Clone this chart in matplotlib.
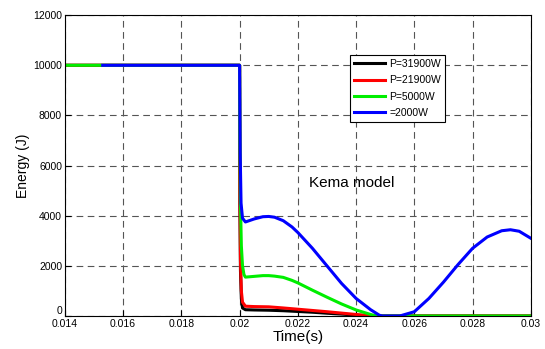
import matplotlib.pyplot as plt

plt.rcParams['font.family'] = ['Liberation Sans', 'DejaVu Sans']

# blue curve (=2000W)
t_blue = [0.0153, 0.02, 0.02002, 0.02005, 0.0201, 0.0202, 0.0205, 0.0208, 0.021, 0.0212, 0.0215,
          0.0218, 0.022, 0.0225, 0.023, 0.0235, 0.024, 0.0245, 0.0248, 0.0249, 0.0255,
          0.026, 0.0265, 0.027, 0.0275, 0.028, 0.0285, 0.029, 0.0293, 0.0296, 0.03]
e_blue = [10000, 10000, 6500, 4500, 3900, 3750, 3870, 3960, 3970, 3940, 3800,
          3550, 3330, 2700, 2000, 1300, 700, 250, 30, 0, 0,
          170, 700, 1350, 2050, 2700, 3150, 3400, 3440, 3380, 3100]

# green curve (P=5000W)
t_green = [0.014, 0.02, 0.02001, 0.02003, 0.02006, 0.0201, 0.02015, 0.0202, 0.0205, 0.0208, 0.021,
           0.0212, 0.0215, 0.0218, 0.022, 0.0225, 0.023, 0.0235, 0.024, 0.0245, 0.0247, 0.03]
e_green = [10000, 10000, 7000, 4500, 2800, 2000, 1650, 1550, 1580, 1610, 1610,
           1590, 1540, 1420, 1320, 1030, 750, 480, 240, 60, 0, 0]

# red curve (P=21900W)
t_red = [0.014, 0.02, 0.02001, 0.02003, 0.02006, 0.0201, 0.0202, 0.0205, 0.021, 0.0215, 0.022,
         0.0225, 0.023, 0.0235, 0.024, 0.0245, 0.0246, 0.03]
e_red = [10000, 10000, 5000, 2200, 1000, 550, 390, 375, 365, 320, 270,
         220, 170, 115, 60, 10, 0, 0]

# black curve (P=31900W)
t_black = [0.014, 0.02, 0.02001, 0.02003, 0.02006, 0.0201, 0.0202, 0.0205, 0.021, 0.0215, 0.022,
           0.0225, 0.023, 0.0235, 0.024, 0.0245, 0.0246, 0.03]
e_black = [10000, 10000, 4500, 1800, 700, 320, 250, 240, 230, 210, 180,
           150, 110, 75, 35, 5, 0, 0]

labels = ['P=31900W', 'P=21900W', 'P=5000W', '=2000W']
xticks = [0.014, 0.016, 0.018, 0.02, 0.022, 0.024, 0.026, 0.028, 0.03]
xticklabels = ['0.014', '0.016', '0.018', '0.02', '0.022', '0.024', '0.026', '0.028', '0.03']
yticks = [0, 2000, 4000, 6000, 8000, 10000, 12000]

fig = plt.figure(figsize=(5.45, 3.49), dpi=100)
ax = fig.add_axes([0.119, 0.0946, 0.855, 0.862])

ax.plot(t_black, e_black, color='black', lw=2.2, label=labels[0])
ax.plot(t_red, e_red, color='#ff0000', lw=2.2, label=labels[1])
ax.plot(t_green, e_green, color='#00ee00', lw=2.2, label=labels[2])
ax.plot(t_blue, e_blue, color='#0000ff', lw=2.2, label=labels[3])

ax.set_xlim(0.014, 0.03)
ax.set_ylim(0, 12000)
ax.set_xticks(xticks)
ax.set_xticklabels(xticklabels, fontsize=7.5)
ax.set_yticks(yticks)
ax.set_yticklabels([str(v) for v in yticks], fontsize=7.5)
ax.get_yticklabels()[0].set_va('bottom')
ax.tick_params(direction='in', length=4, pad=2)
ax.grid(True, color='#555555', linestyle=(0, (6, 4)), linewidth=0.8)

ax.set_xlabel('Time(s)', fontsize=11, labelpad=1)
ax.set_ylabel('Energy (J)', fontsize=10, labelpad=2)

ax.text(0.0224, 5300, 'Kema model', fontsize=11, va='center')

leg = ax.legend(loc='upper left', bbox_to_anchor=(0.6, 0.885), fontsize=7.5,
                fancybox=False, framealpha=1, edgecolor='black',
                handlelength=3.0, handletextpad=0.4, labelspacing=0.6,
                borderpad=0.4)
leg.get_frame().set_linewidth(0.8)

plt.savefig('out.png', dpi=100)
plt.close()
